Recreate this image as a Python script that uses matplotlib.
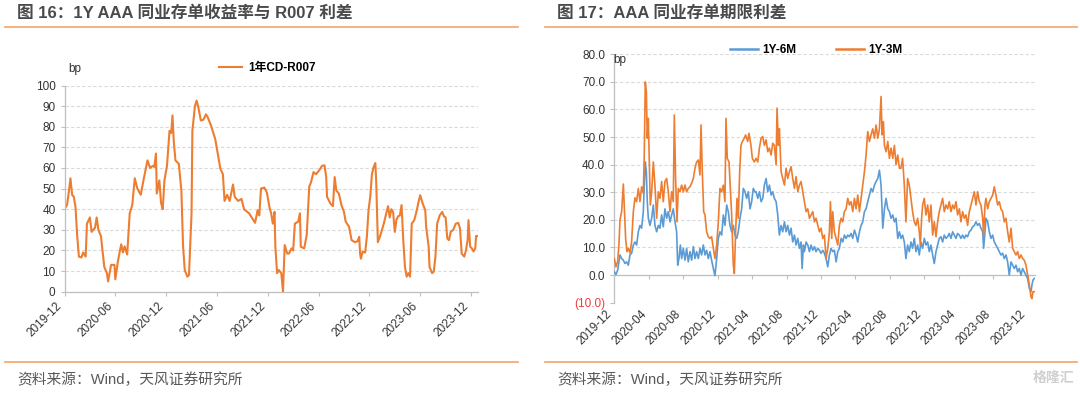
import numpy as np
import pandas as pd
import matplotlib
matplotlib.use("Agg")
import matplotlib.pyplot as plt
from matplotlib.lines import Line2D

plt.rcParams['font.family'] = ['Liberation Sans', 'Noto Sans CJK SC', 'DejaVu Sans']

# ---------------- data ----------------
# months elapsed since 2019-12-01 and values (bp)
cd_m = [0, 0.3, 0.5, 0.7, 0.9, 1.1, 1.3, 1.5, 1.7, 2.0,
        2.2, 2.5, 2.65, 3.0, 3.2, 3.6, 3.8, 4.0, 4.3, 4.7,
        5.0, 5.15, 5.5, 5.9, 6.0, 6.3, 6.5, 6.7, 6.9, 7.1,
        7.4, 7.7, 8.0, 8.3, 8.6, 9.0, 9.4, 9.8, 10.1, 10.4,
        10.6, 10.8, 10.9, 11.2, 11.4, 11.6, 11.8, 12.1, 12.4, 12.6,
        12.75, 12.9, 13.1, 13.5, 13.8, 14.0, 14.2, 14.5, 14.7, 15.0,
        15.1, 15.4, 15.6, 15.8, 16.1, 16.4, 16.7, 16.9, 17.3, 17.8,
        18.1, 18.4, 18.7, 18.9, 19.2, 19.5, 19.9, 20.1, 20.5, 20.9,
        21.2, 21.8, 22.5, 22.8, 23.0, 23.2, 23.6, 23.9, 24.2, 24.4,
        24.6, 24.8, 24.9, 25.1, 25.3, 25.6, 25.8, 26.0, 26.3, 26.5,
        26.8, 27.0, 27.2, 27.6, 27.8, 27.9, 28.3, 28.6, 28.9, 29.1,
        29.4, 29.7, 30.1, 30.4, 30.7, 30.9, 31.0, 31.4, 31.7, 31.9,
        32.1, 32.4, 32.7, 33.0, 33.2, 33.6, 33.9, 34.3, 34.6, 34.8,
        34.9, 35.0, 35.2, 35.5, 35.7, 35.9, 36.1, 36.3, 36.5, 36.7,
        36.8, 37.0, 37.3, 37.7, 38.0, 38.2, 38.4, 38.6, 38.8, 39.0,
        39.2, 39.4, 39.6, 39.8, 40.0, 40.2, 40.4, 40.6, 40.8, 41.0,
        41.3, 41.6, 41.8, 42.0, 42.3, 42.6, 42.7, 43.0, 43.1, 43.4,
        43.6, 43.8, 44.0, 44.3, 44.6, 44.8, 45.0, 45.2, 45.4, 45.6,
        45.9, 46.2, 46.5, 46.7, 46.9, 47.2, 47.4, 47.6, 47.7, 47.9,
        48.1, 48.3, 48.5, 48.6, 48.7]
cd_v = [40, 42, 48, 55, 47, 46, 41, 27, 17, 16.6,
        19, 17, 33, 36, 29, 31, 36, 30, 27, 12,
        9, 5, 13, 13, 6, 14.5, 19, 23, 19, 22,
        18, 38, 42, 55, 50, 47, 55.6, 63.7, 60, 61,
        60.5, 67, 47.6, 54, 43, 40, 54, 61, 78, 77,
        85.5, 73, 63.7, 62, 49, 22, 10.5, 7.3, 8, 38,
        78, 90, 92.7, 89.5, 83, 83.4, 86, 84.7, 80.6, 74,
        67, 59.7, 57, 44, 47, 44, 52, 46, 44, 45,
        40, 38, 33.4, 39.5, 37, 50, 50.5, 48, 41, 38,
        33, 38.7, 21.8, 9, 10.5, 9, 0, 22.6, 18.5, 18.5,
        21, 20, 33, 34, 38, 21.8, 21, 27.4, 51, 53,
        58, 57, 59, 61, 61.3, 55.6, 46, 42.7, 41.5, 55.6,
        49, 47.6, 42, 38.7, 34, 31.5, 25, 24, 24.5, 26.6,
        18.5, 16, 19.4, 19, 26.6, 39.5, 46, 57, 60.5, 62.4,
        54, 24, 27.4, 33, 38, 41.5, 36, 40, 38.7, 29,
        35, 36.6, 37, 42, 25, 12, 7.3, 9, 7.3, 33,
        34.7, 39.5, 43.5, 46.8, 42.7, 39.5, 31.5, 21.8, 12, 9,
        9.7, 17, 33, 37, 38.7, 36.6, 36, 25.8, 25, 29,
        30, 33, 33.4, 30.6, 18.5, 17, 20, 25, 34.7, 21.8,
        21, 19.5, 21, 27, 27]

r6_m = [0, 0.19, 0.39, 0.54, 0.66, 0.85, 1.05, 1.24, 1.43, 1.63,
        1.82, 2.01, 2.21, 2.40, 2.59, 2.79, 2.98, 3.17, 3.37, 3.48,
        3.60, 3.72, 3.83, 3.95, 4.14, 4.34, 4.53, 4.72, 4.92, 5.11,
        5.30, 5.50, 5.69, 5.88, 6.08, 6.27, 6.47, 6.66, 6.85, 7.05,
        7.24, 7.36, 7.51, 7.67, 7.82, 8.01, 8.21, 8.40, 8.59, 8.79,
        8.98, 9.18, 9.37, 9.56, 9.76, 9.95, 10.14, 10.34, 10.53, 10.72,
        10.92, 11.11, 11.30, 11.50, 11.69, 11.89, 12.08, 12.27, 12.47, 12.66,
        12.85, 13.05, 13.24, 13.43, 13.63, 13.82, 14.01, 14.21, 14.40, 14.60,
        14.79, 14.98, 15.18, 15.37, 15.56, 15.76, 15.95, 16.14, 16.34,
        16.46, 16.66, 16.85, 17.05, 17.24, 17.43, 17.63, 17.82, 18.01, 18.21,
        18.40, 18.59, 18.79, 18.98, 19.17, 19.37, 19.56, 19.76, 19.95, 20.14,
        20.34, 20.53, 20.72, 20.92, 21.11, 21.31, 21.50, 21.69, 21.81, 21.96,
        22.08, 22.27, 22.47, 22.66, 22.85, 23.05, 23.24, 23.43, 23.63, 23.82,
        24.01, 24.21, 24.40, 24.59, 24.79, 24.98, 25.17, 25.37, 25.56, 25.76,
        25.95, 26.14, 26.34, 26.53, 26.72, 26.92, 27.11, 27.30, 27.50, 27.69,
        27.89, 28.08, 28.27, 28.47, 28.66, 28.85, 29.05, 29.24, 29.43, 29.63,
        29.82, 30.01, 30.21, 30.40, 30.60, 30.79, 30.98, 31.18, 31.37, 31.56,
        31.76, 31.95, 32.14, 32.34, 32.53, 32.72, 32.92, 33.11,
        33.29, 33.48, 33.68, 33.87, 34.06, 34.26, 34.45, 34.64, 34.84, 35.03,
        35.23, 35.42, 35.61, 35.81, 36.00, 36.19, 36.39, 36.58, 36.77, 36.97,
        37.16, 37.36, 37.55, 37.74, 37.94, 38.13, 38.32, 38.52, 38.71, 38.90,
        39.10, 39.29, 39.48, 39.68, 39.87, 40.07, 40.26, 40.45, 40.65, 40.84,
        41.03, 41.23, 41.42, 41.61, 41.81, 42.00, 42.19, 42.39, 42.58, 42.78,
        42.89, 43.05, 43.16, 43.36, 43.55, 43.74, 43.94, 44.13, 44.32, 44.52,
        44.71, 44.90, 45.10, 45.29, 45.49, 45.68, 45.87, 46.07, 46.26, 46.45,
        46.65, 46.84, 47.03, 47.23, 47.42, 47.61, 47.81, 48.00, 48.20, 48.39,
        48.50, 48.62, 48.78]
r6_v = [1.2, 0.2, 1.8, 4.8, 7.3, 6, 5.4, 4.2, 4.8, 3.6,
        7.3, 7.9, 10.9, 12, 10.9, 15.7, 18, 17, 23, 32.6,
        41, 37.5, 26.6, 20.6, 18, 20.6, 25.4, 18, 15.7, 18,
        17, 21.8, 17.5, 24, 20.6, 23, 19.3, 21.8, 24, 19.3,
        15.7, 3.6, 6, 10.9, 6, 9.7, 5.4, 9.7, 4.8, 8.5,
        5.4, 10.3, 6, 8.5, 6, 9.7, 7.3, 10.9, 7.3, 9,
        6, 8.5, 5.4, 2.4, -0.2, 6, 13.3, 15.7, 14.5, 21.8,
        18, 25.4, 23, 18, 15.7, 18, 14.5, 13.3, 15.7, 20.6,
        24, 31.4, 30.2, 27.8, 30.2, 24, 26.6, 31.4, 30.2,
        30.2, 27.8, 30.2, 26.6, 27.8, 32.6, 35, 30.2, 32.6, 29,
        30.2, 27.8, 26.6, 21.8, 14.5, 18, 15.7, 19.3, 15.7, 18,
        14.5, 17, 12, 14.5, 10.9, 13.3, 9.7, 12, 2.4, 10.9,
        8.5, 12, 10.9, 8.5, 10.9, 9, 10.3, 8.5, 9.7, 9,
        7.9, 9, 7.9, 6, 3, 7.3, 9.7, 8.5, 9, 4.8,
        8.5, 9.7, 13.3, 12, 14.5, 13.3, 14.5, 13.9, 15.1, 13.3,
        16.3, 14.5, 12, 15.7, 18, 19.3, 23, 24, 26.6, 29,
        31.4, 30.2, 32.6, 33.9, 35, 38, 32.6, 17, 24, 27.8,
        24, 23, 20.6, 21.8, 19.3, 20.6, 13.3, 15.7,
        13.3, 14.5, 12, 6, 10.9, 8.5, 12, 9.7, 13.3, 8.5,
        10.9, 7.3, 12, 9.7, 13.3, 10.9, 12, 8.5, 10.9, 7.3,
        4.2, 8.5, 10.9, 13.3, 13.9, 12, 14.5, 13.3, 13.9, 15.1,
        13.3, 15.7, 14.5, 13.3, 15.1, 14.5, 13.3, 14.5, 13.3, 14.5,
        13.9, 15.7, 16.3, 17.5, 18, 19.3, 18, 18.7, 17, 15.7,
        9.7, 15.7, 20.6, 19.3, 15.7, 13.3, 14.5, 12, 10.9, 9.7,
        8.5, 7.3, 7.9, 6, 7.3, 4.8, 0, 4.8, 3.6, 2.4,
        3.6, 1.2, 2.4, 0, 2.4, 1.2, 0, -1.2, -4.8, -6,
        -3.6, -1.8, -1.2]

r3_m = [0, 0.19, 0.39, 0.54, 0.66, 0.85, 1.05, 1.16, 1.32, 1.47,
        1.63, 1.82, 2.01, 2.21, 2.40, 2.59, 2.79, 2.98, 3.17, 3.37,
        3.48, 3.60, 3.72, 3.83, 3.95, 4.06, 4.18, 4.34, 4.53, 4.72,
        4.92, 5.11, 5.30, 5.50, 5.69, 5.88, 6.08, 6.27, 6.47, 6.66,
        6.85, 6.97, 7.12, 7.28, 7.43, 7.63, 7.82, 8.01, 8.21, 8.40,
        8.59, 8.79, 8.98, 9.18, 9.37, 9.56, 9.76, 9.95, 10.07, 10.22,
        10.38, 10.53, 10.72, 10.92, 11.11, 11.30, 11.50, 11.69, 11.89, 12.08,
        12.27, 12.47, 12.66, 12.85, 12.97, 13.12, 13.32, 13.47, 13.63, 13.82,
        13.94, 14.09, 14.25, 14.40, 14.56, 14.71, 14.87, 15.10, 15.25, 15.49,
        15.64, 15.87, 16.03, 16.26,
        16.46, 16.66, 16.85, 17.05, 17.24, 17.43, 17.63, 17.82, 18.01, 18.21,
        18.40, 18.59, 18.79, 18.90, 19.06, 19.17, 19.37, 19.56, 19.76, 19.95,
        20.14, 20.34, 20.53, 20.72, 20.92, 21.11, 21.31, 21.50, 21.69, 21.89,
        22.08, 22.27, 22.47, 22.66, 22.85, 23.05, 23.24, 23.43, 23.63, 23.82,
        24.01, 24.21, 24.40, 24.59, 24.79, 24.98, 25.10, 25.25, 25.37, 25.56,
        25.76, 25.95, 26.14, 26.34, 26.53, 26.72, 26.92, 27.11, 27.30, 27.50,
        27.69, 27.89, 28.08, 28.27, 28.47, 28.66, 28.85, 29.05, 29.24, 29.43,
        29.63, 29.82, 30.01, 30.21, 30.40, 30.60, 30.79, 30.98, 31.10, 31.25,
        31.37, 31.56, 31.76, 31.95, 32.14, 32.34, 32.53, 32.72, 32.92, 33.11,
        33.29, 33.48, 33.68, 33.87, 34.06, 34.26, 34.45, 34.64, 34.84, 35.03,
        35.23, 35.42, 35.54, 35.69, 35.81, 36.00, 36.19, 36.39, 36.58, 36.77,
        36.97, 37.16, 37.36, 37.55, 37.74, 37.94, 38.13, 38.32, 38.52, 38.71,
        38.90, 39.10, 39.29, 39.48, 39.68, 39.87, 40.07, 40.26, 40.45, 40.65,
        40.84, 41.03, 41.23, 41.42, 41.61, 41.81, 42.00, 42.19, 42.39, 42.58,
        42.78, 42.89, 43.05, 43.16, 43.36, 43.55, 43.74, 43.94, 44.13, 44.32,
        44.52, 44.71, 44.90, 45.10, 45.29, 45.49, 45.68, 45.87, 46.07, 46.26,
        46.45, 46.65, 46.84, 47.03, 47.23, 47.42, 47.61, 47.81, 48.00, 48.20,
        48.39, 48.50, 48.62, 48.78]
r3_v = [6, 3, 5, 11, 20, 23, 33, 25, 13, 8.5,
        9.7, 8, 12, 23, 28, 26.6, 31.4, 26.6, 32, 29.6,
        43.5, 70, 66.5, 49.6, 56.8, 42.3, 25.4, 30.2, 41, 32.6,
        20.6, 30.2, 27.8, 33.9, 26.6, 33.9, 35, 30.2, 23, 30.2,
        26.6, 58, 35, 19.3, 31.4, 30.2, 32.6, 30.2, 32.6, 30.2,
        31.4, 32, 33.3, 35, 38.7, 41, 41.7, 36.3, 54.4, 37.5,
        23, 21.8, 15.7, 13.9, 13.3, 13.9, 9.7, 6, 10.9, 19.3,
        31.4, 30.2, 32.6, 26.6, 56.8, 42.3, 41, 31.4, 21.8, 3.6,
        0.6, 15.7, 27.8, 20.6, 37.5, 47, 48.4, 49.6, 50.8, 48.4,
        51.4, 47, 42.3, 41,
        42.3, 41, 46, 49.6, 50.2, 47, 49, 44.7, 46, 43.5,
        47.8, 47, 40, 60.5, 47, 53, 37.5, 35, 32.6, 38.7,
        35, 37.5, 39.3, 35, 31.4, 35.7, 30.2, 32.6, 33.9, 30.2,
        26.6, 23, 24, 20.6, 21.8, 23, 19.3, 20.6, 18, 15.7,
        17, 13.3, 14.5, 6, 9.7, 15.7, 26.6, 13.3, 23, 15.7,
        13.3, 10.9, 18, 20.6, 19.3, 23, 24, 27.8, 25.4, 26.6,
        23, 27.8, 24, 29, 23, 27.8, 32.6, 37.5, 43.5, 52,
        48.4, 50.8, 53, 49.6, 54.4, 49.6, 53, 64.7, 50.8, 55.6,
        47, 44.7, 48.4, 42.3, 46, 42.3, 47, 40, 43.5, 38.7,
        38.7, 42.3, 32.6, 19.3, 35, 32.6, 27.8, 23, 19.3, 18,
        20.6, 15.7, 10.9, 20.6, 25.4, 27.8, 21.8, 25.4, 19.3, 25.4,
        14.5, 19.3, 13.9, 19.3, 23, 25.4, 27.8, 23, 25.4, 24,
        26.6, 23, 25.4, 24, 26.6, 21.8, 24, 19.3, 23, 20.6,
        21.8, 18, 23, 25.4, 27.8, 30.2, 25.4, 30.2, 26.6, 25.4,
        20.6, 14.5, 25.4, 27.8, 24, 26.6, 27.8, 29, 32, 29,
        25.4, 26.6, 24, 23, 19.3, 20.6, 15.7, 12, 17, 9.7,
        8.5, 7.3, 8.5, 6, 7.3, 6, 5.4, 3.6, 0, -3.6,
        -7.9, -8.5, -6, -6]

left_tick_labels = ['2019-12', '2020-06', '2020-12', '2021-06', '2021-12',
                    '2022-06', '2022-12', '2023-06', '2023-12']
right_tick_labels = ['2019-12', '2020-04', '2020-08', '2020-12', '2021-04',
                     '2021-08', '2021-12', '2022-04', '2022-08', '2022-12',
                     '2023-04', '2023-08', '2023-12']
left_yticks = list(range(0, 101, 10))
right_yticks = list(range(-10, 81, 10))

title_left = '图 16：1Y AAA 同业存单收益率与 R007 利差'
title_right = '图 17：AAA 同业存单期限利差'
source_text = '资料来源：Wind，天风证券研究所'

# ---------------- styles ----------------
ORANGE = '#ED7D31'
BLUE = '#5B9BD5'
RULE = '#F2A468'
AXIS = '#BFBFBF'
GRID = '#D9D9D9'
TXT = '#333333'
W, H = 1080, 393


def to_dates(m):
    return pd.Timestamp('2019-12-01') + pd.to_timedelta(np.asarray(m, float) * 30.4375, unit='D')


def pair(m, v):
    n = min(len(m), len(v))
    return to_dates(m[:n]), np.asarray(v[:n], float)


fig = plt.figure(figsize=(W / 100, H / 100), dpi=100)
fig.patch.set_facecolor('white')

# ---- left axes ----
ax1 = fig.add_axes([64.5 / W, 1 - 291.7 / H, (477.5 - 64.5) / W, (291.7 - 85.5) / H])
x, y = pair(cd_m, cd_v)
ax1.plot(x, y, color=ORANGE, lw=1.5, label='1年CD-R007', solid_joinstyle='round')
ax1.set_xlim(x[0], x[-1] + pd.Timedelta(days=2))
ax1.set_ylim(0, 100)
for s in ['top', 'right']:
    ax1.spines[s].set_visible(False)
for s in ['left', 'bottom']:
    ax1.spines[s].set_color(AXIS)
    ax1.spines[s].set_linewidth(0.9)
ax1.set_yticks(left_yticks)
ax1.set_yticklabels([str(t) for t in left_yticks])
lt = pd.to_datetime(left_tick_labels, format='%Y-%m')
ax1.set_xticks(lt)
ax1.set_xticklabels(left_tick_labels, rotation=45, ha='right')
ax1.grid(axis='y', color=GRID, ls=(0, (3, 2)), lw=0.8)
ax1.set_axisbelow(True)
ax1.tick_params(axis='both', colors=AXIS, labelcolor=TXT, labelsize=8.5, length=3, width=0.8)
ax1.tick_params(axis='x', pad=3)

# ---- right axes ----
ax2 = fig.add_axes([614.3 / W, 1 - 302.7 / H, (1034.9 - 614.3) / W, (302.7 - 54.3) / H])
x6, y6 = pair(r6_m, r6_v)
x3, y3 = pair(r3_m, r3_v)
ax2.plot(x6, y6, color=BLUE, lw=1.2, label='1Y-6M', zorder=3)
ax2.plot(x3, y3, color=ORANGE, lw=1.2, label='1Y-3M', zorder=4)
ax2.set_xlim(x3[0], x3[-1] + pd.Timedelta(days=2))
ax2.set_ylim(-10, 80)
for s in ['top', 'right']:
    ax2.spines[s].set_visible(False)
ax2.spines['bottom'].set_position(('data', 0))
for s in ['left', 'bottom']:
    ax2.spines[s].set_color(AXIS)
    ax2.spines[s].set_linewidth(0.9)
ax2.set_yticks(right_yticks)
ylabs = ax2.set_yticklabels([('(%.1f)' % abs(t)) if t < 0 else ('%.1f' % t) for t in right_yticks])
rt = pd.to_datetime(right_tick_labels, format='%Y-%m')
ax2.set_xticks(rt)
ax2.set_xticklabels(right_tick_labels, rotation=45, ha='right')
ax2.grid(axis='y', color=GRID, ls=(0, (3, 2)), lw=0.8)
ax2.set_axisbelow(True)
ax2.tick_params(axis='both', colors=AXIS, labelcolor=TXT, labelsize=8.5, length=3, width=0.8)
ax2.tick_params(axis='x', pad=21)
for lab, t in zip(ax2.get_yticklabels(), right_yticks):
    if t < 0:
        lab.set_color('#F03C3C')

# ---- legends ----
h1, l1 = ax1.get_legend_handles_labels()
fig.legend(h1, l1, loc='center left', bbox_to_anchor=(219 / W, 1 - 68 / H), frameon=False,
           borderpad=0, borderaxespad=0, handlelength=1.95, handletextpad=0.55,
           prop={'size': 8.5, 'weight': 'bold'})
h2, l2 = ax2.get_legend_handles_labels()
leg2 = fig.legend(h2, l2, loc='center left', bbox_to_anchor=(730 / W, 1 - 50 / H), frameon=False,
                  ncol=2, borderpad=0, borderaxespad=0, handlelength=2.35, handletextpad=0.35,
                  columnspacing=3.4, prop={'size': 8.5, 'weight': 'bold'})
for lh in leg2.get_lines():
    lh.set_linewidth(1.8)

# ---- texts ----
fig.text(68 / W, 1 - 69 / H, 'bp', fontsize=8.5, color=TXT, ha='left', va='center')
fig.text(613 / W, 1 - 60 / H, 'bp', fontsize=8.5, color=TXT, ha='left', va='center')

fig.text(17 / W, 1 - 13 / H, title_left, fontsize=12, fontweight='bold', color='#4A4A4A',
         ha='left', va='center')
fig.text(557 / W, 1 - 13 / H, title_right, fontsize=12, fontweight='bold', color='#4A4A4A',
         ha='left', va='center')

for (xa, xb) in [(5, 518), (545, 1077)]:
    for yy in [27, 361.5]:
        fig.add_artist(Line2D([xa / W, xb / W], [1 - yy / H, 1 - yy / H],
                              transform=fig.transFigure, color=RULE, lw=1.2))

fig.text(17 / W, 1 - 380 / H, source_text, fontsize=10.6, color='#595959', ha='left', va='center')
fig.text(557 / W, 1 - 380 / H, source_text, fontsize=10.6, color='#595959', ha='left', va='center')
fig.text(1074 / W, 1 - 378 / H, '格隆汇', fontsize=10, color='#D0D0D0', fontweight='bold',
         ha='right', va='center')

fig.savefig('out.png', dpi=100, facecolor='white')
